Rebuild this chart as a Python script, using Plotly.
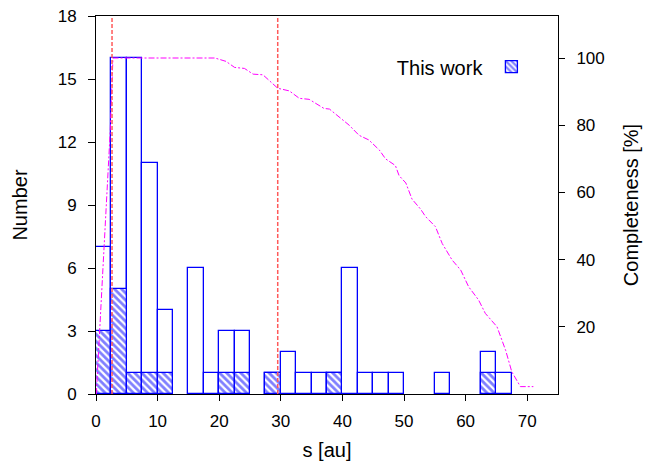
import plotly.graph_objects as go

# Histogram bins (left edges, au), width 2.5
bin_left = [0, 2.5, 5, 7.5, 10, 12.5, 15, 17.5, 20, 22.5, 25, 27.5, 30, 32.5, 35, 37.5,
            40, 42.5, 45, 47.5, 50, 52.5, 55, 57.5, 60, 62.5, 65]
bin_width = 2.5
all_counts = [7, 16, 16, 11, 4, 0, 6, 1, 3, 3, 0, 1, 2, 1, 1, 1,
              6, 1, 1, 1, 0, 0, 1, 0, 0, 2, 1]
this_work_counts = [3, 5, 1, 1, 1, 0, 0, 0, 1, 1, 0, 1, 0, 0, 0, 1,
                    0, 0, 0, 0, 0, 0, 0, 0, 0, 1, 0]

# Completeness curve
comp_s = [0.05, 0.6, 1.1, 1.6, 2.3, 2.75, 19.3, 21.1, 22.5, 24.1, 25.5, 27.1, 28.2, 29.5,
          31.4, 33, 34.6, 37, 37.9, 39.5, 41.1, 42.7, 44.3, 46, 47, 48.6, 49.2, 50.3,
          51.3, 52.7, 53.5, 55.1, 56.2, 57.8, 59.2, 60.5, 62.1, 63.2, 65.1, 66.5, 67.5,
          68.9, 71]
comp_pct = [0, 20, 38, 57, 78, 100, 100, 99, 97.2, 96.9, 95.2, 95, 93.2, 91,
            90.2, 88, 87.7, 85, 84.8, 82.5, 80, 77, 75.6, 72.6, 70, 68, 65, 62.8,
            58, 55, 52.8, 49.8, 44.8, 39.9, 36.9, 31.9, 28, 24, 20, 13, 6.6,
            2.2, 2.2]

# Vertical marker lines (au)
marker_s = [2.6, 29.5]

centers = [b + bin_width / 2 for b in bin_left]
all_plot = [c if c > 0 else None for c in all_counts]
tw_plot = [c if c > 0 else None for c in this_work_counts]

fig = go.Figure()
fig.add_trace(go.Bar(
    x=centers, y=all_plot, width=bin_width,
    marker=dict(color="rgba(255,255,255,0)", line=dict(color="#0000ff", width=1.3)),
    showlegend=False, name="All",
))
fig.add_trace(go.Bar(
    x=centers, y=tw_plot, width=bin_width,
    marker=dict(color="white", line=dict(color="#0000ff", width=1.3),
                pattern=dict(shape="\\", fgcolor="#0000ff", bgcolor="white",
                             size=5, solidity=0.55)),
    name=" ", showlegend=True,
))
fig.add_trace(go.Scatter(
    x=comp_s, y=comp_pct, yaxis="y2", mode="lines",
    line=dict(color="#ff00ff", width=1, dash="6px,2px,2px,2px"),
    showlegend=False, name="Completeness",
))

for s in marker_s:
    fig.add_shape(type="line", x0=s, x1=s, xref="x", y0=0, y1=1, yref="paper",
                  line=dict(color="#ff5a5a", width=1.5, dash="4px,2px"),
                  layer="above")

font = dict(family="Liberation Sans, Arial, sans-serif", size=17, color="black")

fig.update_layout(
    width=645, height=463,
    margin=dict(l=96, r=87, t=16, b=69, autoexpand=False),
    plot_bgcolor="white", paper_bgcolor="white",
    barmode="overlay", bargap=0,
    font=font,
    xaxis=dict(range=[0, 75], tickvals=[0, 10, 20, 30, 40, 50, 60, 70],
               ticks="outside", ticklen=6, tickcolor="black", showgrid=False,
               zeroline=False, showline=True, linecolor="black", linewidth=1,
               mirror=True, ticklabelstandoff=6, automargin=False,
               title=dict(text="s [au]", standoff=12)),
    yaxis=dict(range=[0, 18], tickvals=[0, 3, 6, 9, 12, 15, 18],
               ticks="outside", ticklen=7, tickcolor="black", showgrid=False,
               zeroline=False, showline=True, linecolor="black", linewidth=1,
               ticklabelstandoff=8, automargin=False,
               title=dict(text="Number", standoff=24)),
    yaxis2=dict(range=[0, 112.5], tickvals=[20, 40, 60, 80, 100], overlaying="y",
                side="right", ticks="outside", ticklen=6, tickcolor="black",
                showgrid=False, zeroline=False, showline=True, linecolor="black",
                linewidth=1, ticklabelstandoff=8, automargin=False,
                title=dict(text="Completeness [%]", standoff=20)),
    legend=dict(x=0.965, y=0.865, xanchor="right", yanchor="middle",
                bgcolor="rgba(0,0,0,0)",
                title=dict(text="This work", side="left"),
                font=font),
)

fig.write_html("out.html")
